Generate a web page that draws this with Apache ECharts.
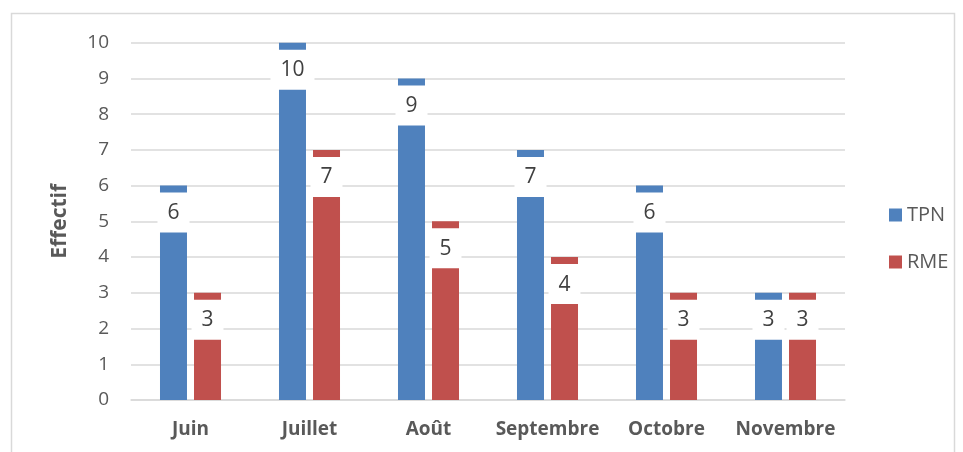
<!DOCTYPE html>
<html><head><meta charset="utf-8">
<script src="https://cdn.jsdelivr.net/npm/echarts@6/dist/echarts.min.js"></script>
<style>html,body{margin:0;padding:0;background:#fff}#c{width:963px;height:452px}</style>
</head><body><div id="c"></div>
<script>
const categories = ['Juin','Juillet','Août','Septembre','Octobre','Novembre'];
const tpn = [6,10,9,7,6,3];
const rme = [3,7,5,4,3,3];
const seriesNames = ['TPN','RME'];
const font = 'Open Sans, Liberation Sans, sans-serif';
const chart = echarts.init(document.getElementById('c'));
const lbl = {
  show: true, position: 'insideTop', distance: 7,
  backgroundColor: '#fff', borderWidth: 0, padding: [10, 10, 9, 10],
  color: '#404040', fontSize: 21, fontFamily: font
};
chart.setOption({
  animation: false,
  graphic: [{type:'rect', shape:{x:11.5,y:13.5,width:943,height:450}, style:{fill:'none', stroke:'#d9d9d9', lineWidth:1.5}, silent:true}],
  grid: {left:131, right:118, top:42.7, bottom:52, containLabel:false},
  legend: {
    orient:'vertical', left:884, top:200, itemGap:27, itemWidth:13, itemHeight:13,
    icon:'rect', textStyle:{fontSize:20, color:'#595959', fontFamily:font},
    data: seriesNames
  },
  xAxis: {
    type:'category', data:categories,
    axisLine:{lineStyle:{color:'#d9d9d9', width:1.5}}, axisTick:{show:false},
    axisLabel:{interval:0, fontSize:19, fontWeight:'bold', color:'#595959', margin:20, fontFamily:font}
  },
  yAxis: {
    type:'value', min:0, max:10, interval:1,
    name:'Effectif', nameLocation:'middle', nameGap:60, nameRotate:90,
    nameTextStyle:{fontSize:21, fontWeight:'bold', color:'#595959', fontFamily:font},
    axisLine:{show:false}, axisTick:{show:false},
    axisLabel:{fontSize:19, color:'#595959', margin:22, fontFamily:font},
    splitLine:{lineStyle:{color:'#d9d9d9', width:1.5}}
  },
  series: [
    {name:seriesNames[0], type:'bar', data:tpn, barWidth:27, barGap:'26%', itemStyle:{color:'#4F81BD'}, label:lbl},
    {name:seriesNames[1], type:'bar', data:rme, barWidth:27, itemStyle:{color:'#C0504D'}, label:lbl}
  ]
});
</script></body></html>
